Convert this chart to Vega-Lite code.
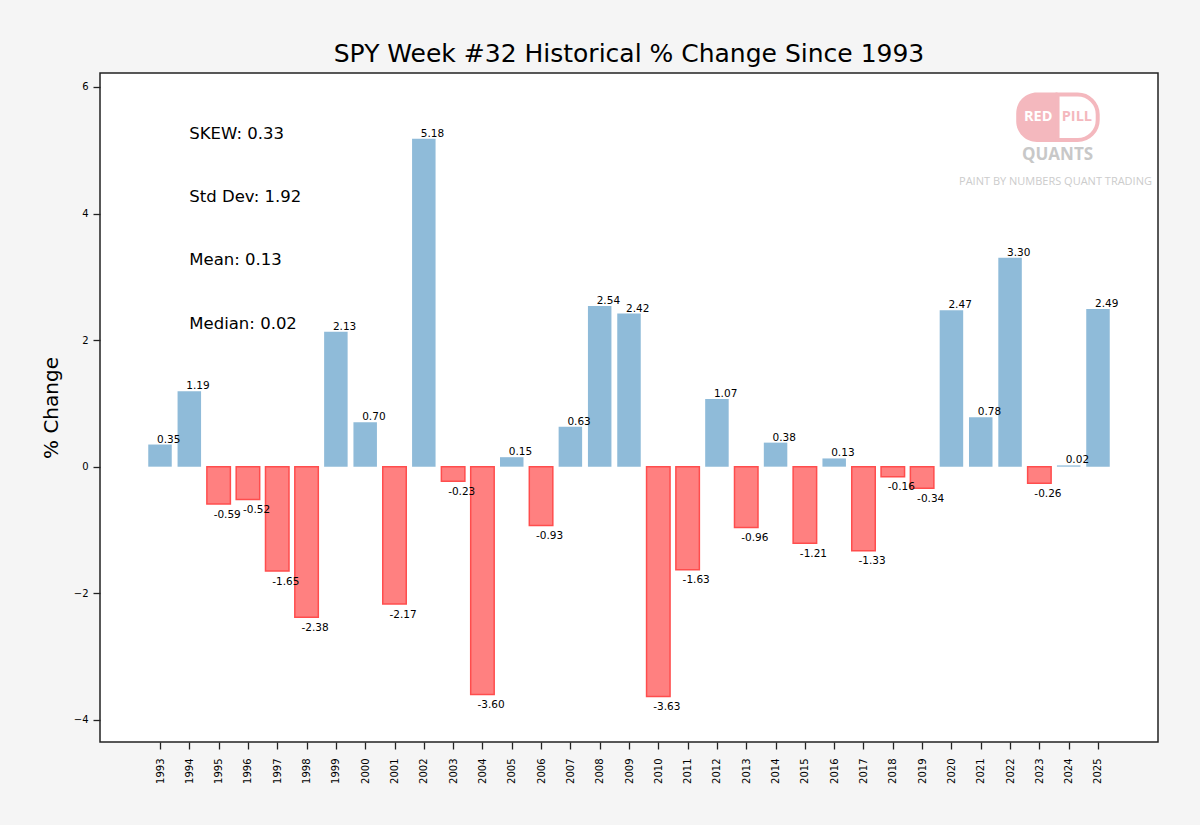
{
  "$schema": "https://vega.github.io/schema/vega-lite/v6.json",
  "width": 1058,
  "height": 669,
  "autosize": {"type": "none"},
  "padding": {"left": 100, "top": 73, "right": 42, "bottom": 83},
  "background": "#f5f5f5",
  "title": {
    "text": "SPY Week #32 Historical % Change Since 1993",
    "fontSize": 25,
    "fontWeight": "normal",
    "font": "DejaVu Sans",
    "color": "#000000",
    "anchor": "middle",
    "offset": 6
  },
  "config": {
    "font": "DejaVu Sans",
    "view": {"fill": "#ffffff", "stroke": "#222222", "strokeWidth": 1.5},
    "axis": {
      "grid": false,
      "domain": false,
      "tickColor": "#222222",
      "tickWidth": 1.3,
      "tickSize": 7,
      "labelColor": "#000000",
      "labelFont": "DejaVu Sans",
      "labelFontSize": 10,
      "titleFont": "DejaVu Sans",
      "titleColor": "#000000",
      "titleFontWeight": "normal"
    }
  },
  "datasets": {
    "weeks": [
      {"year": 1993, "pct": 0.35},
      {"year": 1994, "pct": 1.19},
      {"year": 1995, "pct": -0.59},
      {"year": 1996, "pct": -0.52},
      {"year": 1997, "pct": -1.65},
      {"year": 1998, "pct": -2.38},
      {"year": 1999, "pct": 2.13},
      {"year": 2000, "pct": 0.70},
      {"year": 2001, "pct": -2.17},
      {"year": 2002, "pct": 5.18},
      {"year": 2003, "pct": -0.23},
      {"year": 2004, "pct": -3.60},
      {"year": 2005, "pct": 0.15},
      {"year": 2006, "pct": -0.93},
      {"year": 2007, "pct": 0.63},
      {"year": 2008, "pct": 2.54},
      {"year": 2009, "pct": 2.42},
      {"year": 2010, "pct": -3.63},
      {"year": 2011, "pct": -1.63},
      {"year": 2012, "pct": 1.07},
      {"year": 2013, "pct": -0.96},
      {"year": 2014, "pct": 0.38},
      {"year": 2015, "pct": -1.21},
      {"year": 2016, "pct": 0.13},
      {"year": 2017, "pct": -1.33},
      {"year": 2018, "pct": -0.16},
      {"year": 2019, "pct": -0.34},
      {"year": 2020, "pct": 2.47},
      {"year": 2021, "pct": 0.78},
      {"year": 2022, "pct": 3.30},
      {"year": 2023, "pct": -0.26},
      {"year": 2024, "pct": 0.02},
      {"year": 2025, "pct": 2.49}
    ],
    "stats": [
      {"year": 1994, "pct": 5.25, "label": "SKEW: 0.33"},
      {"year": 1994, "pct": 4.26, "label": "Std Dev: 1.92"},
      {"year": 1994, "pct": 3.26, "label": "Mean: 0.13"},
      {"year": 1994, "pct": 2.25, "label": "Median: 0.02"}
    ]
  },
  "layer": [
    {
      "data": {"name": "weeks"},
      "mark": {"type": "bar", "size": 23.5, "strokeWidth": 1.5},
      "encoding": {
        "x": {
          "field": "year",
          "type": "quantitative",
          "scale": {"domain": [1990.953, 2027.047], "nice": false, "zero": false, "padding": 0},
          "axis": {
            "values": [1993, 1994, 1995, 1996, 1997, 1998, 1999, 2000, 2001, 2002, 2003, 2004, 2005, 2006, 2007, 2008, 2009, 2010, 2011, 2012, 2013, 2014, 2015, 2016, 2017, 2018, 2019, 2020, 2021, 2022, 2023, 2024, 2025],
            "tickCount": 60,
            "format": "d",
            "labelAngle": -90,
            "labelAlign": "right",
            "labelBaseline": "middle",
            "labelPadding": 9,
            "labelOverlap": false,
            "labelFlush": false,
            "title": null
          }
        },
        "y": {
          "field": "pct",
          "type": "quantitative",
          "scale": {"domain": [-4.35, 6.22], "nice": false, "padding": 0},
          "axis": {
            "values": [-4, -2, 0, 2, 4, 6],
            "format": "d",
            "title": "% Change",
            "titleFontSize": 20,
            "titlePadding": 12,
            "labelPadding": 5
          }
        },
        "fill": {
          "condition": {"test": "datum.pct < 0", "value": "#ff8080"},
          "value": "#8fbbd9"
        },
        "stroke": {
          "condition": {"test": "datum.pct < 0", "value": "#ff4d4d"},
          "value": "transparent"
        }
      }
    },
    {
      "data": {"name": "weeks"},
      "transform": [{"filter": "datum.pct >= 0"}],
      "mark": {"type": "text", "align": "left", "baseline": "alphabetic", "dx": -3, "dy": -2, "fontSize": 10.5, "color": "#000000"},
      "encoding": {
        "x": {"field": "year", "type": "quantitative"},
        "y": {"field": "pct", "type": "quantitative"},
        "text": {"field": "pct", "type": "quantitative", "format": ".2f"}
      }
    },
    {
      "data": {"name": "weeks"},
      "transform": [
        {"filter": "datum.pct < 0"},
        {"calculate": "replace(format(datum.pct, '.2f'), '\u2212', '-')", "as": "txt"}
      ],
      "mark": {"type": "text", "align": "left", "baseline": "alphabetic", "dx": -5, "dy": 13.5, "fontSize": 10.5, "color": "#000000"},
      "encoding": {
        "x": {"field": "year", "type": "quantitative"},
        "y": {"field": "pct", "type": "quantitative"},
        "text": {"field": "txt", "type": "nominal"}
      }
    },
    {
      "data": {"name": "stats"},
      "mark": {"type": "text", "align": "left", "baseline": "middle", "fontSize": 16.5, "color": "#000000"},
      "encoding": {
        "x": {"field": "year", "type": "quantitative"},
        "y": {"field": "pct", "type": "quantitative"},
        "text": {"field": "label", "type": "nominal"}
      }
    },
    {
      "data": {"values": [{"year": 2022.21, "year2": 2023.62, "pct": 5.13, "pct2": 5.91}]},
      "mark": {"type": "rect", "fill": "#f4b8be", "cornerRadiusTopLeft": 24, "cornerRadiusBottomLeft": 24},
      "encoding": {
        "x": {"field": "year", "type": "quantitative"},
        "x2": {"field": "year2"},
        "y": {"field": "pct", "type": "quantitative"},
        "y2": {"field": "pct2"}
      }
    },
    {
      "data": {"values": [{"year": 2023.62, "year2": 2024.99, "pct": 5.16, "pct2": 5.88}]},
      "mark": {"type": "rect", "fill": "#ffffff", "stroke": "#f4b8be", "strokeWidth": 4, "cornerRadiusTopRight": 22, "cornerRadiusBottomRight": 22},
      "encoding": {
        "x": {"field": "year", "type": "quantitative"},
        "x2": {"field": "year2"},
        "y": {"field": "pct", "type": "quantitative"},
        "y2": {"field": "pct2"}
      }
    },
    {
      "data": {"values": [
        {"year": 2022.96, "pct": 5.52, "label": "RED", "tone": "white"},
        {"year": 2024.28, "pct": 5.52, "label": "PILL", "tone": "pink"}
      ]},
      "mark": {"type": "text", "align": "center", "baseline": "middle", "fontSize": 14.5, "fontWeight": "bold", "font": "Open Sans"},
      "encoding": {
        "x": {"field": "year", "type": "quantitative"},
        "y": {"field": "pct", "type": "quantitative"},
        "text": {"field": "label", "type": "nominal"},
        "color": {
          "field": "tone",
          "type": "nominal",
          "scale": {"domain": ["white", "pink"], "range": ["#ffffff", "#f4b8be"]},
          "legend": null
        }
      }
    },
    {
      "data": {"values": [{"year": 2023.62, "pct": 4.93, "label": "QUANTS"}]},
      "mark": {"type": "text", "align": "center", "baseline": "middle", "fontSize": 17, "fontWeight": "bold", "font": "Open Sans", "color": "#c8c8c8"},
      "encoding": {
        "x": {"field": "year", "type": "quantitative"},
        "y": {"field": "pct", "type": "quantitative"},
        "text": {"field": "label", "type": "nominal"}
      }
    },
    {
      "data": {"values": [{"year": 2023.55, "pct": 4.5, "label": "PAINT BY NUMBERS QUANT TRADING"}]},
      "mark": {"type": "text", "align": "center", "baseline": "middle", "fontSize": 11, "font": "Open Sans", "color": "#cccccc"},
      "encoding": {
        "x": {"field": "year", "type": "quantitative"},
        "y": {"field": "pct", "type": "quantitative"},
        "text": {"field": "label", "type": "nominal"}
      }
    }
  ]
}
